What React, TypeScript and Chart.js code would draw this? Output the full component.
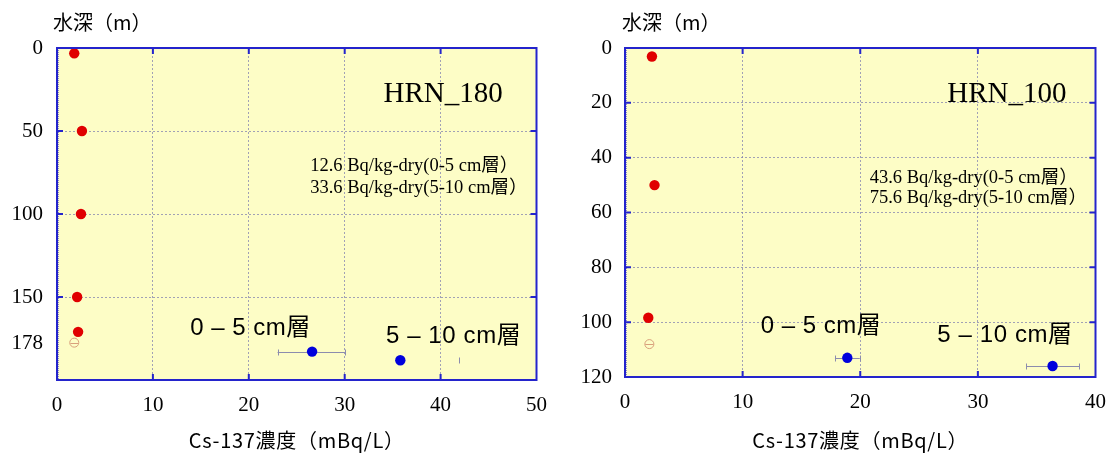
import React, { useEffect, useRef } from "react";
import { Chart, registerables } from "chart.js";
Chart.register(...registerables);

const SERIF = '"Liberation Serif", "Noto Sans CJK JP", serif';
const SANS = '"Liberation Sans", "Noto Sans CJK JP", sans-serif';
const CJK = '"Noto Sans CJK JP", sans-serif';

const BG = "#fdfdc6";
const FRAME = "#2424cc";
const GRID = "rgba(130,130,175,0.75)";
const RED = "#e00000";
const BLUE = "#0000dd";
const OPEN = "#d9a07c";
const ERR = "#8c8cae";

// ---------- HRN_180 ----------
const hrn180WaterCs = [1.8, 2.6, 2.5, 2.1, 2.2];
const hrn180WaterDepth = [3.2, 50, 100, 150, 171];
const hrn180BottomCs = [1.8];
const hrn180BottomDepth = [177.5];
const hrn180BottomErrLow = [1.4];
const hrn180BottomErrHigh = [2.2];
const hrn180SedCs = [26.6, 35.8];
const hrn180SedDepth = [182.9, 188.1];
const hrn180SedErrLow: (number | null)[] = [23.0, null];
const hrn180SedErrHigh: (number | null)[] = [30.0, 41.9];
const hrn180XTicks = [0, 10, 20, 30, 40, 50];
const hrn180YTicks = [0, 50, 100, 150, 178];
const hrn180XGrid = [10, 20, 30, 40];
const hrn180YGrid = [50, 100, 150];
const hrn180Sediment = ["12.6 Bq/kg-dry(0-5 cm層）", "33.6 Bq/kg-dry(5-10 cm層）"];

// ---------- HRN_100 ----------
const hrn100WaterCs = [2.29, 2.51, 1.98];
const hrn100WaterDepth = [3.1, 50, 98.4];
const hrn100BottomCs = [2.07];
const hrn100BottomDepth = [108];
const hrn100BottomErrLow = [1.72];
const hrn100BottomErrHigh = [2.42];
const hrn100SedCs = [18.9, 36.35];
const hrn100SedDepth = [113, 116];
const hrn100SedErrLow: (number | null)[] = [17.85, 34.1];
const hrn100SedErrHigh: (number | null)[] = [19.96, 38.6];
const hrn100XTicks = [0, 10, 20, 30, 40];
const hrn100YTicks = [0, 20, 40, 60, 80, 100, 120];
const hrn100XGrid = [10, 20, 30];
const hrn100YGrid = [20, 40, 60, 80, 100];
const hrn100Sediment = ["43.6 Bq/kg-dry(0-5 cm層）", "75.6 Bq/kg-dry(5-10 cm層）"];

const Y_TITLE = "水深（m）";
const X_TITLE = "Cs-137濃度（mBq/L）";
const LAYER1 = "0 – 5 cm層";
const LAYER2 = "5 – 10 cm層";

const TICK = 6;

function toXY(xs: number[], ys: number[]) {
  return xs.map((x, i) => ({ x, y: ys[i] }));
}

function setSpacing(ctx: any, v: string) {
  try {
    ctx.letterSpacing = v;
  } catch (e) {}
}

const panelPlugin = {
  id: "panel",
  beforeDraw(chart: any) {
    const { ctx, chartArea: a } = chart;
    ctx.save();
    ctx.fillStyle = BG;
    ctx.fillRect(a.left, a.top, a.right - a.left, a.bottom - a.top);
    ctx.restore();
  },
  beforeDatasetsDraw(chart: any) {
    const { ctx } = chart;
    const xs = chart.scales.x;
    const ys = chart.scales.y;
    chart.data.datasets.forEach((ds: any) => {
      if (!ds.errLow) return;
      ds.data.forEach((pt: any, i: number) => {
        const lo = ds.errLow[i];
        const hi = ds.errHigh[i];
        const py = Math.round(ys.getPixelForValue(pt.y)) + 0.5;
        ctx.save();
        ctx.strokeStyle = ds.errColor;
        ctx.lineWidth = 1;
        ctx.beginPath();
        if (lo != null && hi != null) {
          ctx.moveTo(xs.getPixelForValue(lo), py);
          ctx.lineTo(xs.getPixelForValue(hi), py);
        }
        const cap = ds.errCap;
        [lo, hi].forEach((v: number | null) => {
          if (v != null && cap > 0) {
            const px = Math.round(xs.getPixelForValue(v)) + 0.5;
            ctx.moveTo(px, py - cap);
            ctx.lineTo(px, py + cap);
          }
        });
        ctx.stroke();
        ctx.restore();
      });
    });
  },
  afterDraw(chart: any) {
    const p = chart.options.plugins.panel;
    const { ctx, chartArea: a } = chart;
    const xs = chart.scales.x;
    const ys = chart.scales.y;
    ctx.save();
    ctx.strokeStyle = "rgba(60,60,210,0.6)";
    ctx.lineWidth = 1;
    ctx.setLineDash([1, 1]);
    ctx.beginPath();
    ctx.moveTo(a.left + 1.5, a.top);
    ctx.lineTo(a.left + 1.5, a.bottom);
    ctx.stroke();
    ctx.setLineDash([]);
    ctx.strokeStyle = FRAME;
    ctx.lineWidth = 2;
    ctx.strokeRect(a.left, a.top, a.right - a.left, a.bottom - a.top);
    ctx.beginPath();
    p.xMarks.forEach((v: number) => {
      const px = xs.getPixelForValue(v);
      ctx.moveTo(px, a.top);
      ctx.lineTo(px, a.top + TICK);
      ctx.moveTo(px, a.bottom);
      ctx.lineTo(px, a.bottom - TICK);
    });
    p.yMarks.forEach((v: number) => {
      const py = ys.getPixelForValue(v);
      ctx.moveTo(a.left, py);
      ctx.lineTo(a.left + TICK, py);
      ctx.moveTo(a.right, py);
      ctx.lineTo(a.right - TICK, py);
    });
    ctx.stroke();
    ctx.fillStyle = "#000";
    ctx.textBaseline = "middle";
    ctx.textAlign = "left";
    p.texts.forEach((t: any) => {
      ctx.font = t.font;
      setSpacing(ctx, t.spacing || "0px");
      ctx.fillText(t.text, xs.getPixelForValue(t.x), ys.getPixelForValue(t.y));
    });
    setSpacing(ctx, "0px");
    ctx.font = `20px ${CJK}`;
    ctx.fillText(Y_TITLE, p.yTitleX, 22);
    ctx.textAlign = "center";
    setSpacing(ctx, "0.7px");
    ctx.fillText(X_TITLE, (a.left + a.right) / 2, 440);
    setSpacing(ctx, "0px");
    ctx.restore();
  },
};

type Panel = {
  waterCs: number[];
  waterDepth: number[];
  bottomCs: number[];
  bottomDepth: number[];
  bottomErrLow: number[];
  bottomErrHigh: number[];
  sedCs: number[];
  sedDepth: number[];
  sedErrLow: (number | null)[];
  sedErrHigh: (number | null)[];
  xMax: number;
  yMax: number;
  xTicks: number[];
  yTicks: number[];
  xGrid: number[];
  yGrid: number[];
  station: string;
  sediment: string[];
  layout: any;
};

function makeConfig(p: Panel): any {
  const L = p.layout;
  return {
    type: "scatter",
    data: {
      datasets: [
        {
          data: toXY(p.waterCs, p.waterDepth),
          backgroundColor: RED,
          borderColor: RED,
          borderWidth: 0,
          pointRadius: 5.2,
        },
        {
          data: toXY(p.bottomCs, p.bottomDepth),
          backgroundColor: "rgba(0,0,0,0)",
          borderColor: OPEN,
          borderWidth: 1,
          pointRadius: 4.5,
          errLow: p.bottomErrLow,
          errHigh: p.bottomErrHigh,
          errColor: OPEN,
          errCap: 0,
        },
        {
          data: toXY(p.sedCs, p.sedDepth),
          backgroundColor: BLUE,
          borderColor: BLUE,
          borderWidth: 0,
          pointRadius: 5.2,
          errLow: p.sedErrLow,
          errHigh: p.sedErrHigh,
          errColor: ERR,
          errCap: 3,
        },
      ],
    },
    options: {
      responsive: false,
      animation: false,
      events: [],
      layout: { padding: { left: 0, top: L.top, right: L.padRight, bottom: 0 } },
      plugins: {
        legend: { display: false },
        tooltip: { enabled: false },
        panel: {
          xMarks: p.xGrid,
          yMarks: p.yGrid,
          yTitleX: L.yTitleX,
          texts: [
            { text: p.station, x: L.station[0], y: L.station[1], font: `29px ${SERIF}` },
            { text: p.sediment[0], x: L.sed[0], y: L.sed[1], font: `18.5px ${SERIF}` },
            { text: p.sediment[1], x: L.sed[0], y: L.sed[2], font: `18.5px ${SERIF}` },
            { text: LAYER1, x: L.layer1[0], y: L.layer1[1], font: `24px ${SANS}`, spacing: "0.5px" },
            { text: LAYER2, x: L.layer2[0], y: L.layer2[1], font: `24px ${SANS}`, spacing: "0.6px" },
          ],
        },
      },
      scales: {
        x: {
          type: "linear",
          min: 0,
          max: p.xMax,
          afterBuildTicks: (s: any) => {
            s.ticks = p.xTicks.map((v) => ({ value: v }));
          },
          afterFit: (s: any) => {
            s.height = L.xAxisH;
          },
          grid: {
            drawTicks: false,
            tickLength: 0,
            lineWidth: 1,
            color: (c: any) => (c.tick && p.xGrid.includes(c.tick.value) ? GRID : "rgba(0,0,0,0)"),
          },
          border: { display: false, dash: [2, 2] },
          ticks: {
            font: { family: SERIF, size: 21 },
            color: "#000",
            padding: 13,
            maxRotation: 0,
            autoSkip: false,
          },
        },
        y: {
          type: "linear",
          reverse: true,
          min: 0,
          max: p.yMax,
          afterBuildTicks: (s: any) => {
            s.ticks = p.yTicks.map((v) => ({ value: v }));
          },
          afterFit: (s: any) => {
            s.width = L.yAxisW;
          },
          grid: {
            drawTicks: false,
            tickLength: 0,
            lineWidth: 1,
            color: (c: any) => (c.tick && p.yGrid.includes(c.tick.value) ? GRID : "rgba(0,0,0,0)"),
          },
          border: { display: false, dash: [2, 2] },
          ticks: {
            font: { family: SERIF, size: 21 },
            color: "#000",
            padding: L.yPad,
            autoSkip: false,
          },
        },
      },
    },
    plugins: [panelPlugin],
  };
}

const panel180: Panel = {
  waterCs: hrn180WaterCs,
  waterDepth: hrn180WaterDepth,
  bottomCs: hrn180BottomCs,
  bottomDepth: hrn180BottomDepth,
  bottomErrLow: hrn180BottomErrLow,
  bottomErrHigh: hrn180BottomErrHigh,
  sedCs: hrn180SedCs,
  sedDepth: hrn180SedDepth,
  sedErrLow: hrn180SedErrLow,
  sedErrHigh: hrn180SedErrHigh,
  xMax: 50,
  yMax: 200,
  xTicks: hrn180XTicks,
  yTicks: hrn180YTicks,
  xGrid: hrn180XGrid,
  yGrid: hrn180YGrid,
  station: "HRN_180",
  sediment: hrn180Sediment,
  layout: {
    top: 48,
    padRight: 20,
    yAxisW: 57,
    xAxisH: 77,
    yPad: 14,
    yTitleX: 53,
    station: [34.05, 27.9],
    sed: [26.4, 70.9, 84.5],
    layer1: [13.9, 169.2],
    layer2: [34.3, 173.7],
  },
};

const panel100: Panel = {
  waterCs: hrn100WaterCs,
  waterDepth: hrn100WaterDepth,
  bottomCs: hrn100BottomCs,
  bottomDepth: hrn100BottomDepth,
  bottomErrLow: hrn100BottomErrLow,
  bottomErrHigh: hrn100BottomErrHigh,
  sedCs: hrn100SedCs,
  sedDepth: hrn100SedDepth,
  sedErrLow: hrn100SedErrLow,
  sedErrHigh: hrn100SedErrHigh,
  xMax: 40,
  yMax: 120,
  xTicks: hrn100XTicks,
  yTicks: hrn100YTicks,
  xGrid: hrn100XGrid,
  yGrid: hrn100YGrid,
  station: "HRN_100",
  sediment: hrn100Sediment,
  layout: {
    top: 48,
    padRight: 17,
    yAxisW: 65,
    xAxisH: 80,
    yPad: 13,
    yTitleX: 62,
    station: [27.4, 17.0],
    sed: [20.8, 47.3, 54.7],
    layer1: [11.54, 101.5],
    layer2: [26.55, 104.8],
  },
};

function PanelChart({ panel, width, left }: { panel: Panel; width: number; left: number }) {
  const ref = useRef<HTMLCanvasElement | null>(null);
  useEffect(() => {
    if (!ref.current) return;
    const chart = new Chart(ref.current, makeConfig(panel));
    return () => chart.destroy();
  }, [panel]);
  return (
    <canvas
      ref={ref}
      width={width}
      height={457}
      style={{ position: "absolute", left, top: 0, width, height: 457 }}
    />
  );
}

export default function App() {
  return (
    <div
      style={{
        position: "absolute",
        left: 0,
        top: 0,
        width: 1119,
        height: 457,
        background: "#fff",
        overflow: "hidden",
      }}
    >
      <PanelChart panel={panel180} width={560} left={0} />
      <PanelChart panel={panel100} width={559} left={560} />
    </div>
  );
}
